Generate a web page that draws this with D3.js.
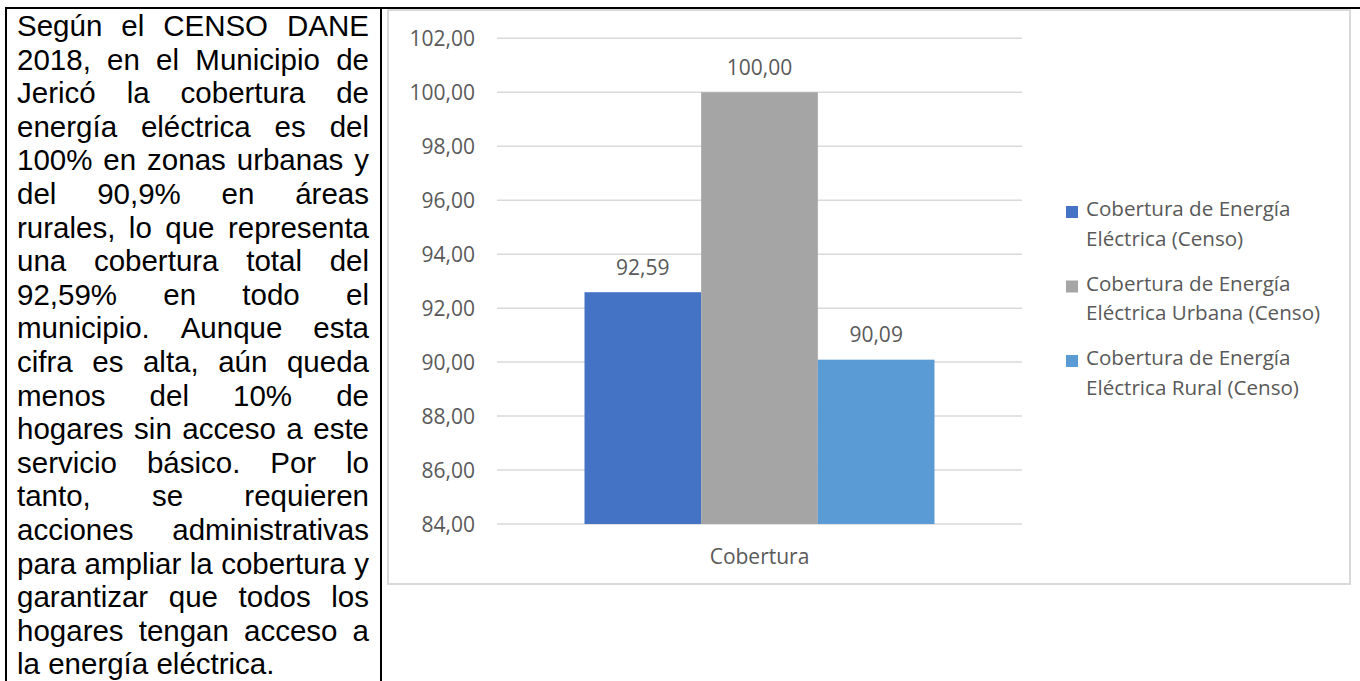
<!DOCTYPE html>
<html>
<head>
<meta charset="utf-8">
<script src="https://cdn.jsdelivr.net/npm/d3@7"></script>
<style>
  html, body { margin: 0; padding: 0; background: #fff; }
  svg { display: block; }
</style>
</head>
<body>
<svg id="page" width="1360" height="681"></svg>
<script>
// ---------- data ----------
const categories = ["Cobertura"];
const seriesNames = [
  "Cobertura de Energía Eléctrica (Censo)",
  "Cobertura de Energía Eléctrica Urbana (Censo)",
  "Cobertura de Energía Eléctrica Rural (Censo)"
];
const seriesValues = [92.59, 100.00, 90.09];
const seriesColors = ["#4472C4", "#A5A5A5", "#5B9BD5"];
const yTicks = [84, 86, 88, 90, 92, 94, 96, 98, 100, 102];
const textLines = [
  "Según el CENSO DANE",
  "2018, en el Municipio de",
  "Jericó la cobertura de",
  "energía eléctrica es del",
  "100% en zonas urbanas y",
  "del 90,9% en áreas",
  "rurales, lo que representa",
  "una cobertura total del",
  "92,59% en todo el",
  "municipio. Aunque esta",
  "cifra es alta, aún queda",
  "menos del 10% de",
  "hogares sin acceso a este",
  "servicio básico. Por lo",
  "tanto, se requieren",
  "acciones administrativas",
  "para ampliar la cobertura y",
  "garantizar que todos los",
  "hogares tengan acceso a",
  "la energía eléctrica."
];

const svg = d3.select("#page");
const locale = d3.formatLocale({ decimal: ",", thousands: ".", grouping: [3], currency: ["", ""] });
const fmt = locale.format(".2f");

// ---------- page borders ----------
svg.append("line").attr("x1", 5).attr("x2", 1360).attr("y1", 8).attr("y2", 8)
  .attr("stroke", "#000").attr("stroke-width", 2);
svg.append("line").attr("x1", 6).attr("x2", 6).attr("y1", 7).attr("y2", 681)
  .attr("stroke", "#000").attr("stroke-width", 2);
svg.append("line").attr("x1", 381).attr("x2", 381).attr("y1", 7).attr("y2", 681)
  .attr("stroke", "#000").attr("stroke-width", 2);

// ---------- justified text column ----------
const textG = svg.append("g")
  .attr("font-family", "'Liberation Sans', Arial, sans-serif")
  .attr("font-size", 29.5)
  .attr("fill", "#000");
const colLeft = 17, colWidth = 352, firstBase = 36, lineH = 33.6;
textLines.forEach((line, i) => {
  const words = line.split(" ");
  const y = firstBase + i * lineH;
  const isLast = i === textLines.length - 1;
  const nodes = words.map(w => textG.append("text").attr("y", y).text(w));
  const widths = nodes.map(n => n.node().getComputedTextLength());
  const total = d3.sum(widths);
  let gap;
  if (isLast || words.length < 2) {
    const tmp = textG.append("text").text(" \u00a0").attr("opacity", 0);
    gap = 29.5 * 0.278;
    tmp.remove();
  } else {
    gap = (colWidth - total) / (words.length - 1);
  }
  let x = colLeft;
  nodes.forEach((n, k) => { n.attr("x", x); x += widths[k] + gap; });
});

// ---------- chart frame ----------
svg.append("rect").attr("x", 388).attr("y", 10).attr("width", 962).attr("height", 574)
  .attr("fill", "#fff").attr("stroke", "#D9D9D9").attr("stroke-width", 2);

const plotLeft = 497, plotRight = 1022, plotTop = 38.3, plotBottom = 524;
const y = d3.scaleLinear().domain([84, 102]).range([plotBottom, plotTop]);
const x0 = d3.scaleBand().domain(categories).range([plotLeft, plotRight])
  .paddingInner(0).paddingOuter(0.25);
const x1 = d3.scaleBand().domain(seriesNames).range([0, x0.bandwidth()]).padding(0);

const font = "'Open Sans', 'Noto Sans', sans-serif";
const textColor = "#595959";

// gridlines
svg.append("g").selectAll("line").data(yTicks).join("line")
  .attr("x1", plotLeft).attr("x2", plotRight)
  .attr("y1", d => y(d)).attr("y2", d => y(d))
  .attr("stroke", "#D9D9D9").attr("stroke-width", 1.5);

// y axis (labels only)
const yAxis = d3.axisLeft(y).tickValues(yTicks).tickFormat(fmt).tickSize(0).tickPadding(0);
const yG = svg.append("g").attr("transform", `translate(475,0)`).call(yAxis);
yG.select(".domain").remove();
yG.selectAll("text").attr("font-family", font).attr("font-size", 21)
  .attr("fill", textColor).attr("dy", "0.36em");

// bars
const barG = svg.append("g");
categories.forEach(cat => {
  const data = seriesNames.map((s, i) => ({ s, v: seriesValues[i], c: seriesColors[i] }));
  barG.selectAll("rect.b").data(data).join("rect").attr("class", "b")
    .attr("x", d => x0(cat) + x1(d.s))
    .attr("width", x1.bandwidth())
    .attr("y", d => y(d.v))
    .attr("height", d => y(84) - y(d.v))
    .attr("fill", d => d.c);
  barG.selectAll("text.l").data(data).join("text").attr("class", "l")
    .attr("x", d => x0(cat) + x1(d.s) + x1.bandwidth() / 2)
    .attr("y", d => y(d.v) - 17.5)
    .attr("text-anchor", "middle")
    .attr("font-family", font).attr("font-size", 21).attr("fill", textColor)
    .text(d => fmt(d.v));
});

// x axis category label
const xAxis = d3.axisBottom(x0).tickSize(0).tickPadding(0);
const xG = svg.append("g").attr("transform", `translate(0,564)`).call(xAxis);
xG.select(".domain").remove();
xG.selectAll("text").attr("font-family", font).attr("font-size", 21)
  .attr("fill", textColor).attr("dy", 0);

// legend
const legend = svg.append("g");
seriesNames.forEach((name, i) => {
  const top = 206 + i * 74.5;
  legend.append("rect").attr("x", 1066).attr("y", top).attr("width", 12).attr("height", 12)
    .attr("fill", seriesColors[i]);
  const lines = name.split(/(?<=Energía) /);
  const t = legend.append("text").attr("font-family", font).attr("font-size", 20.6)
    .attr("fill", textColor);
  lines.forEach((ln, k) => {
    t.append("tspan").attr("x", 1086).attr("y", top + 10 + k * 29.5).text(ln);
  });
});
</script>
</body>
</html>
